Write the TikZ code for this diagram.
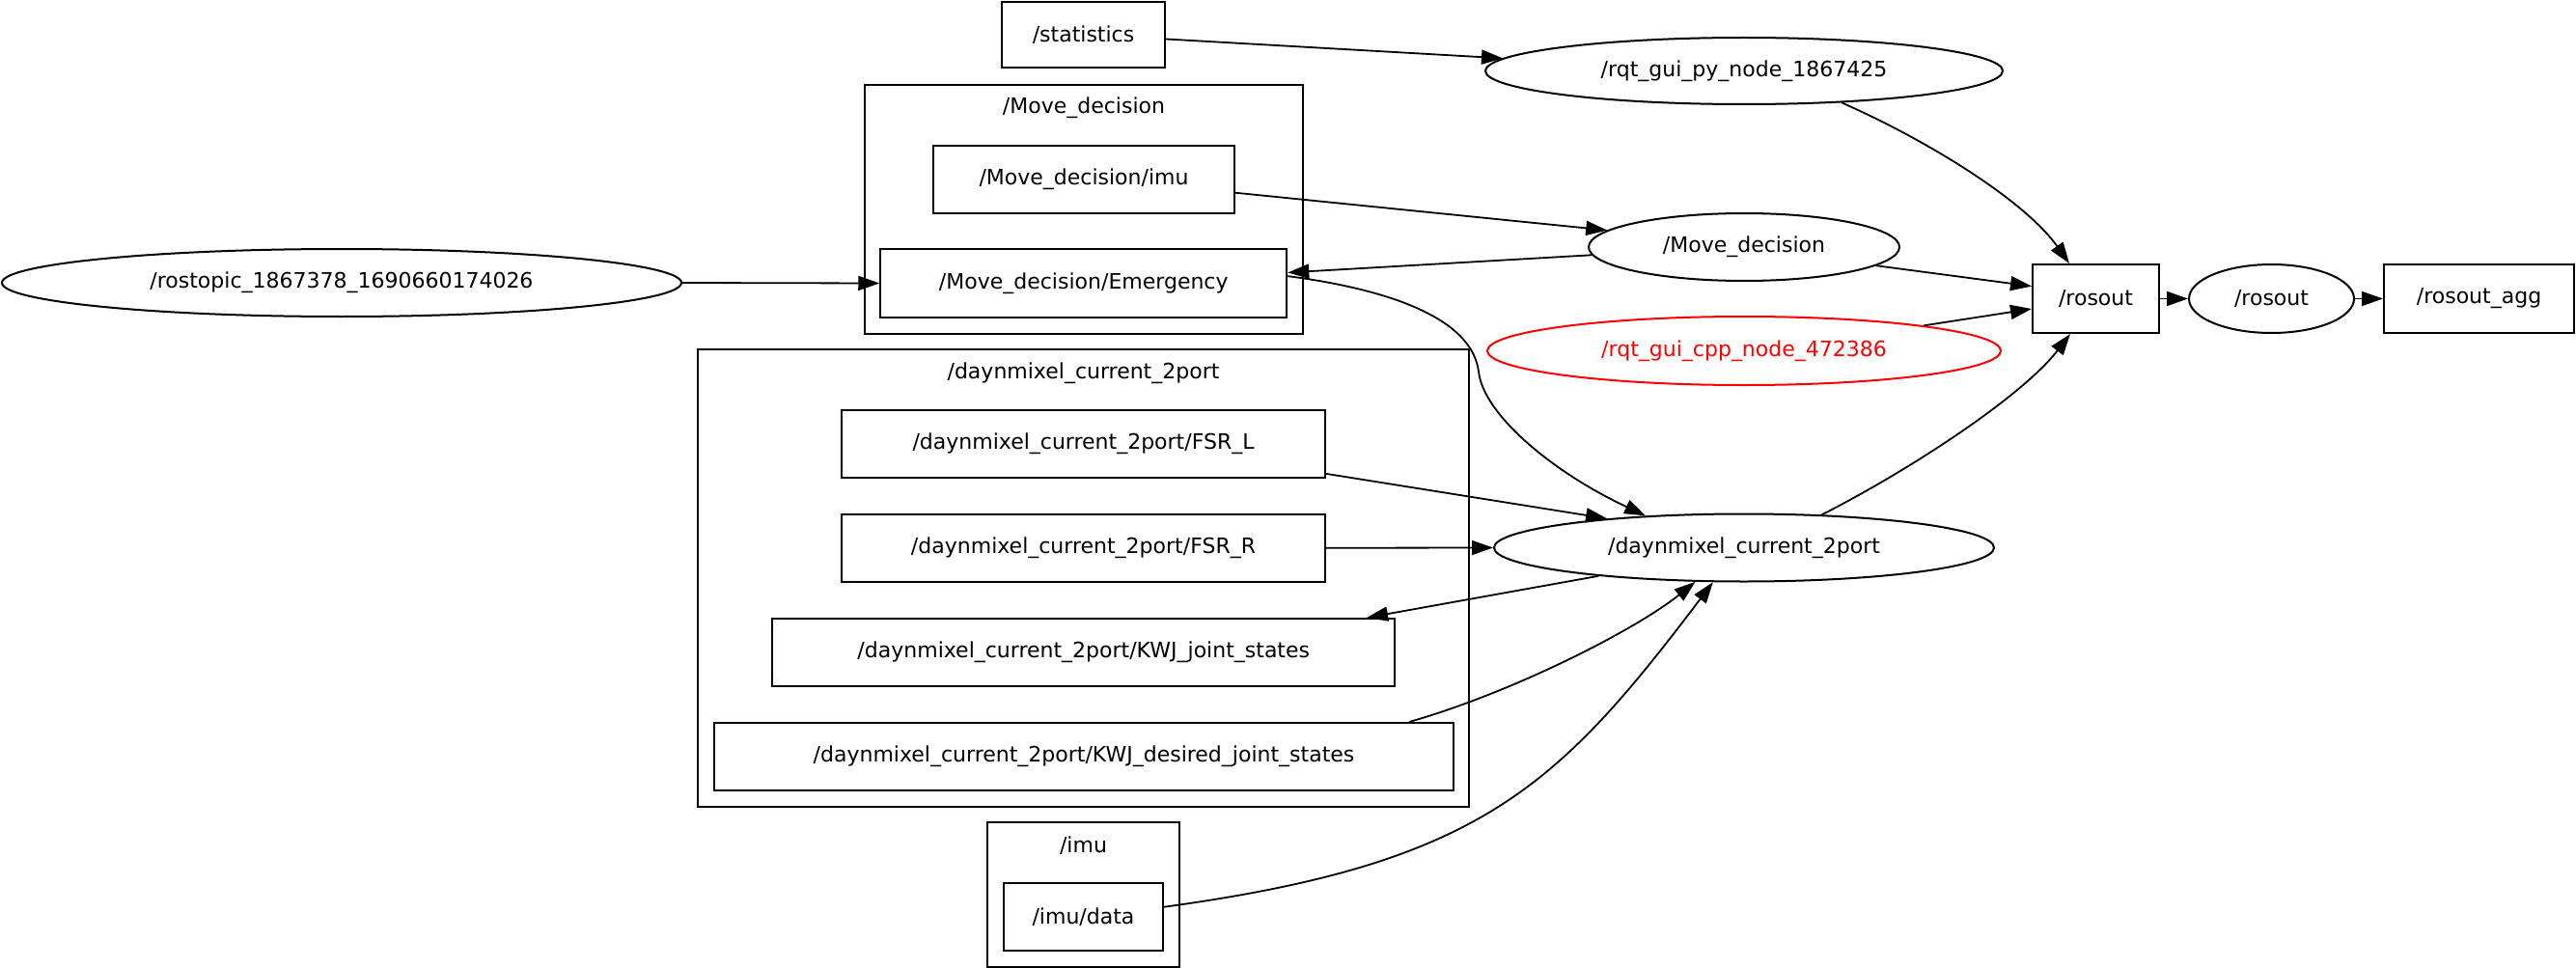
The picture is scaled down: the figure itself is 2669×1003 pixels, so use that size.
\documentclass[tikz,border=0pt]{standalone}
\usepackage{fontspec}
\setmainfont{DejaVu Sans}
\usetikzlibrary{shapes.geometric,arrows.meta}
\begin{document}
\begin{tikzpicture}[x=1pt,y=-1pt,
  every node/.style={font=\fontsize{22}{26}\selectfont, inner sep=0pt},
  topicbox/.style={draw, line width=2pt, rectangle, minimum height=70pt},
  nodeell/.style={draw, line width=2pt, ellipse, minimum height=70pt},
  clusterbox/.style={draw, line width=1.7pt, rectangle},
  clusterlabel/.style={anchor=center},
  edge/.style={line width=1.8pt, -{Triangle[length=22pt,width=15pt]}}
]
\useasboundingbox (0,0) rectangle (2669,1003);

% clusters
\node[clusterbox, minimum width=454pt, minimum height=258pt] (cmd) at (1123,217) {};
\node[clusterlabel] (cmdl) at (1123,112) {/Move\_decision};
\node[clusterbox, minimum width=799pt, minimum height=474pt] (cdn) at (1122.5,599) {};
\node[clusterlabel] (cdnl) at (1122.5,387) {/daynmixel\_current\_2port};
\node[clusterbox, minimum width=199pt, minimum height=150pt] (cimu) at (1122.5,927) {};
\node[clusterlabel] (cimul) at (1122.5,876) {/imu};

% topic boxes
\node[topicbox, minimum width=169pt, minimum height=68pt] (stat) at (1122.5,36) {/statistics};
\node[topicbox, minimum width=312pt] (mdimu) at (1123,186) {/Move\_decision/imu};
\node[topicbox, minimum width=421pt, minimum height=71pt] (em) at (1122.75,293.5) {/Move\_decision/Emergency};
\node[topicbox, minimum width=131pt, minimum height=71pt] (ro) at (2171.5,309.5) {/rosout};
\node[topicbox, minimum width=197pt, minimum height=71pt] (agg) at (2568.5,309.5) {/rosout\_agg};
\node[topicbox, minimum width=501pt] (fsrl) at (1122.5,460) {/daynmixel\_current\_2port/FSR\_L};
\node[topicbox, minimum width=501pt] (fsrr) at (1122.5,567.75) {/daynmixel\_current\_2port/FSR\_R};
\node[topicbox, minimum width=645pt] (kwj) at (1122.75,676) {/daynmixel\_current\_2port/KWJ\_joint\_states};
\node[topicbox, minimum width=766pt] (kwjd) at (1123,784) {/daynmixel\_current\_2port/KWJ\_desired\_joint\_states};
\node[topicbox, minimum width=165pt] (imud) at (1122.5,950) {/imu/data};

% ros nodes
\node[nodeell, minimum width=536pt, minimum height=69pt] (rqpy) at (1807,73.5) {/rqt\_gui\_py\_node\_1867425};
\node[nodeell, minimum width=322pt] (md) at (1807,256) {/Move\_decision};
\node[nodeell, minimum width=171pt, minimum height=71pt] (ros) at (2353.5,309.5) {/rosout};
\node[nodeell, draw=red, text=red, minimum width=532pt, minimum height=71pt] (cpp) at (1807,363.5) {/rqt\_gui\_cpp\_node\_472386};
\node[nodeell, minimum width=518pt] (dn) at (1807,567.5) {/daynmixel\_current\_2port};
\node[nodeell, minimum width=704pt] (rt) at (354,293) {/rostopic\_1867378\_1690660174026};

% edges
\draw[edge] (stat.-3) -- (rqpy.177);
\draw[edge] (rqpy.-18) .. controls (1998,146) and (2098,208) .. (ro.127);
\draw[edge] (mdimu.-5.9) -- (md.173);
\draw[edge] (md.183) -- (em.3);
\draw[edge] (rt.east) -- (em.west);
\draw[edge] (md.-8.4) -- (ro.169);
\draw[edge] (cpp.8.3) -- (ro.189);
\draw[edge] (ro.east) -- (ros.west);
\draw[edge] (ros.east) -- (agg.west);
\draw[edge] (dn.23.2) .. controls (1977,488) and (2095,411) .. (ro.234);
\coordinate (bend) at (1532,385);
\draw[edge] (em.2.6) .. controls (1440,300) and (1525,330) .. (bend)
  .. controls (1537,430) and (1610,490) .. (dn.162.1);
\draw[edge] (fsrl.-7.2) -- (dn.168.5);
\draw[edge] (fsrr.east) -- (dn.west);
\draw[edge] (dn.191.7) -- (kwj.7.1);
\draw[edge] ([xshift=337pt]kwjd.north) .. controls (1566,718) and (1694,653) .. (dn.215.1);
\draw[edge] (imud.7.1) .. controls (1533,895) and (1613,817) .. (dn.228.2);
\end{tikzpicture}
\end{document}
